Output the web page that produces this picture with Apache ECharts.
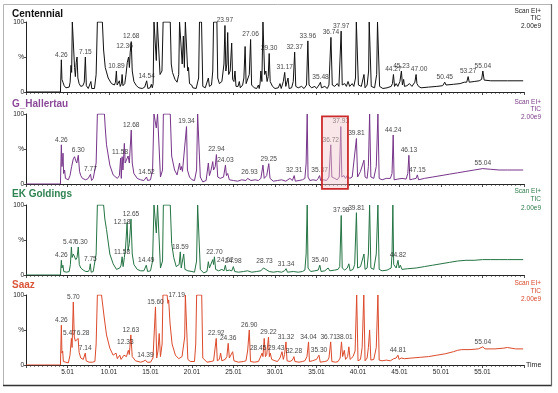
<!DOCTYPE html>
<html><head><meta charset="utf-8">
<script src="https://cdn.jsdelivr.net/npm/echarts@6/dist/echarts.min.js"></script>
<style>html,body{margin:0;padding:0;background:#fff}#c{width:558px;height:393px}</style>
</head><body><div id="c"></div>
<script>
const sampleNames = ['Centennial', 'G_Hallertau', 'EK Goldings', 'Saaz'];
const scanInfo = ['Scan EI+', 'TIC', '2.00e9'];

// [retention time (min), relative intensity (%)]
const centennialTrace = [
[0,0],[4.15,0],[4.26,46],[4.33,18],[4.45,14],[4.6,9],[4.8,6],[5.0,5],[5.2,7],[5.32,14],[5.42,38],[5.5,28],[5.58,100],[5.75,100],[5.85,35],[5.95,22],[6.05,42],[6.15,50],[6.25,20],[6.4,12],[6.6,8],[6.85,9],[7.02,14],[7.15,50],[7.27,9],[7.5,5],[7.7,7],[7.82,15],[7.92,5],[8.25,5],[8.45,25],[8.6,100],[9.2,100],[9.35,60],[9.55,35],[9.9,20],[10.3,12],[10.65,10],[10.78,14],[10.89,30],[10.98,10],[11.1,8],[11.25,16],[11.35,8],[11.5,12],[11.58,25],[11.68,9],[11.9,12],[12.05,25],[12.2,42],[12.36,50],[12.46,35],[12.55,56],[12.68,72],[12.8,30],[13.0,15],[13.3,9],[13.6,6],[14.0,5],[14.3,7],[14.54,16],[14.68,5],[14.95,6],[15.1,11],[15.22,6],[15.32,12],[15.42,100],[15.6,100],[15.7,45],[15.82,100],[16.02,100],[16.15,25],[16.38,30],[16.52,100],[17.38,100],[17.5,40],[17.65,28],[17.8,30],[17.95,18],[18.2,14],[18.4,25],[18.5,100],[18.72,100],[18.82,40],[18.96,80],[19.08,35],[19.2,100],[19.38,100],[19.48,30],[19.58,35],[19.7,12],[19.96,10],[20.1,6],[20.5,5],[20.8,20],[20.9,100],[21.15,100],[21.3,8],[21.6,6],[21.97,20],[22.1,8],[22.35,10],[22.5,30],[22.6,100],[23.0,100],[23.1,20],[23.3,12],[23.6,15],[23.85,40],[23.97,95],[24.08,30],[24.2,40],[24.3,85],[24.42,25],[24.6,30],[24.78,70],[24.9,18],[25.05,15],[25.18,30],[25.3,8],[25.55,8],[25.7,15],[25.82,6],[26.1,10],[26.25,20],[26.4,65],[26.52,12],[26.75,10],[26.9,25],[27.06,75],[27.18,10],[27.5,6],[27.8,5],[28.0,10],[28.1,5],[28.2,12],[28.3,30],[28.42,15],[28.55,100],[28.65,100],[28.75,25],[28.9,30],[29.05,15],[29.18,22],[29.3,55],[29.42,15],[29.7,8],[30.0,5],[30.4,6],[30.6,12],[30.75,5],[31.0,15],[31.17,28],[31.3,8],[31.45,10],[31.57,20],[31.7,5],[32.0,6],[32.2,15],[32.37,57],[32.5,8],[32.8,6],[33.2,8],[33.5,5],[33.8,10],[33.96,73],[34.1,10],[34.4,6],[34.8,8],[35.0,5],[35.3,10],[35.48,14],[35.6,6],[36.0,8],[36.3,5],[36.5,10],[36.74,78],[36.9,10],[37.2,8],[37.5,12],[37.7,8],[37.97,87],[38.1,10],[38.4,12],[38.6,8],[38.8,15],[39.0,8],[39.3,12],[39.5,8],[39.7,20],[39.8,100],[39.92,100],[40.05,10],[40.4,8],[40.72,25],[40.85,6],[41.1,10],[41.28,30],[41.35,100],[41.47,100],[41.6,8],[42.0,6],[42.25,25],[42.35,100],[42.47,100],[42.6,8],[43.0,5],[43.5,6],[44.0,8],[44.15,12],[44.27,25],[44.4,8],[44.6,12],[44.8,8],[45.05,15],[45.23,30],[45.35,10],[45.5,18],[45.6,8],[45.9,9],[46.2,12],[46.5,8],[46.85,14],[47.0,25],[47.1,12],[47.3,8],[47.6,6],[48.5,7],[49.5,8],[50.2,9],[50.45,14],[50.6,10],[51.5,11],[52.3,12],[52.8,14],[53.1,14],[53.27,22],[53.4,14],[54.0,15],[54.6,16],[54.9,18],[55.04,30],[55.2,17],[56,16],[58,16],[59.9,16]
];
const hallertauTrace = [
[0,0],[4.15,0],[4.26,56],[4.33,25],[4.4,32],[4.46,44],[4.53,15],[4.65,20],[4.75,8],[4.9,10],[5.1,6],[5.3,12],[5.5,25],[5.7,36],[5.85,39],[6.0,33],[6.12,30],[6.3,41],[6.45,18],[6.6,12],[6.8,8],[7.0,10],[7.2,6],[7.5,8],[7.65,6],[7.77,14],[7.9,5],[8.1,8],[8.25,6],[8.45,30],[8.6,100],[9.45,100],[9.55,80],[9.7,56],[10.1,27],[10.5,13],[11.0,8],[11.25,12],[11.4,37],[11.48,8],[11.58,39],[11.68,20],[11.85,58],[11.95,30],[12.1,32],[12.3,40],[12.45,30],[12.68,77],[12.8,30],[13.0,15],[13.4,8],[13.8,6],[14.2,5],[14.4,7],[14.52,10],[14.65,5],[15.0,6],[15.25,20],[15.42,100],[15.6,100],[15.7,80],[15.85,100],[16.05,100],[16.2,10],[16.45,20],[16.55,100],[17.38,100],[17.55,40],[17.9,20],[18.2,13],[18.35,12],[18.5,30],[18.6,20],[18.72,25],[18.85,18],[19.05,20],[19.34,82],[19.45,20],[19.7,10],[20.0,6],[20.3,5],[20.55,20],[20.68,100],[20.88,100],[21.0,10],[21.3,3],[21.7,5],[21.97,30],[22.1,12],[22.3,20],[22.5,32],[22.6,20],[22.8,25],[22.94,42],[23.1,10],[23.4,8],[23.8,10],[24.03,27],[24.15,12],[24.3,15],[24.5,6],[25.0,5],[25.5,4],[26.0,6],[26.5,5],[26.7,8],[26.93,10],[27.1,5],[27.6,6],[28.0,5],[28.3,8],[28.55,27],[28.7,8],[29.0,12],[29.25,29],[29.4,8],[29.8,4],[30.3,5],[30.8,6],[31.3,4],[31.8,8],[32.1,5],[32.31,12],[32.45,4],[32.9,5],[33.3,6],[33.6,8],[33.75,30],[33.88,100],[33.98,10],[34.2,5],[34.6,6],[35.0,5],[35.2,8],[35.37,12],[35.5,5],[35.9,6],[36.2,5],[36.5,10],[36.72,56],[36.85,10],[37.2,8],[37.5,6],[37.75,10],[37.93,82],[38.05,10],[38.3,12],[38.5,8],[38.7,12],[39.0,8],[39.3,10],[39.5,12],[39.81,65],[39.95,10],[40.3,18],[40.72,34],[40.85,10],[41.1,8],[41.25,25],[41.4,100],[41.55,10],[41.9,8],[42.2,25],[42.4,100],[42.55,8],[42.9,6],[43.4,8],[43.9,8],[44.1,15],[44.24,70],[44.35,6],[44.8,7],[45.3,8],[45.8,7],[46.0,15],[46.13,41],[46.25,6],[46.6,7],[47.0,8],[47.15,13],[47.3,6],[48.0,8],[49.0,10],[50.0,12],[51.0,14],[52.0,16],[53.0,18],[54.0,20],[55.04,22],[56.0,21],[57.0,20],[58.0,20],[59.9,20]
];
const goldingsTrace = [
[0,0],[4.15,0],[4.26,21],[4.33,10],[4.45,14],[4.55,5],[4.7,7],[4.9,4],[5.2,5],[5.35,15],[5.47,40],[5.55,25],[5.7,30],[5.85,28],[6.0,22],[6.15,25],[6.3,40],[6.42,15],[6.6,10],[6.9,7],[7.2,5],[7.5,5],[7.65,8],[7.75,16],[7.85,4],[8.1,5],[8.3,6],[8.45,30],[8.6,100],[9.35,100],[9.5,80],[9.7,65],[10.1,30],[10.5,16],[10.9,8],[11.3,10],[11.45,14],[11.58,26],[11.7,12],[11.85,25],[12.0,40],[12.18,75],[12.3,35],[12.45,45],[12.65,80],[12.8,30],[13.0,15],[13.4,8],[13.8,6],[14.2,6],[14.49,14],[14.65,5],[15.0,6],[15.25,20],[15.42,100],[15.6,100],[15.7,60],[15.85,100],[16.05,100],[16.2,10],[16.45,20],[16.55,100],[17.38,100],[17.55,45],[17.8,25],[18.1,12],[18.3,10],[18.45,15],[18.59,33],[18.7,10],[18.85,12],[19.0,30],[19.15,8],[19.5,6],[20.0,5],[20.3,4],[20.55,20],[20.68,100],[20.88,100],[21.0,8],[21.4,3],[21.8,5],[21.97,19],[22.1,10],[22.3,12],[22.5,22],[22.6,15],[22.7,26],[22.85,8],[23.2,6],[23.6,8],[23.85,6],[24.02,14],[24.15,6],[24.5,7],[24.8,6],[24.98,12],[25.15,5],[25.6,4],[26.2,5],[26.7,6],[27.2,4],[27.8,5],[28.3,6],[28.6,10],[28.73,12],[28.9,8],[29.1,10],[29.3,5],[29.8,4],[30.3,5],[30.8,4],[31.15,6],[31.34,9],[31.5,4],[32.2,5],[32.8,4],[33.3,5],[33.6,7],[33.75,30],[33.88,100],[33.98,10],[34.3,5],[34.8,6],[35.2,7],[35.4,14],[35.55,5],[36.0,6],[36.4,10],[36.6,6],[37.2,7],[37.6,8],[37.8,12],[37.98,85],[38.1,10],[38.4,7],[38.7,10],[38.9,16],[39.05,6],[39.4,8],[39.6,15],[39.81,89],[39.95,10],[40.3,12],[40.72,30],[40.85,8],[41.1,10],[41.25,30],[41.4,100],[41.55,10],[41.9,8],[42.2,30],[42.4,100],[42.55,8],[42.9,6],[43.5,7],[44.0,10],[44.1,30],[44.2,100],[44.3,15],[44.6,10],[44.82,21],[44.95,10],[45.1,14],[45.3,8],[46,9],[47,10],[48,12],[49,14],[50,16],[51,18],[52,20],[53,21],[54,21],[55,22],[56,22],[57,22],[58,22],[59.9,22]
];
const saazTrace = [
[0,0],[4.15,0],[4.26,57],[4.33,17],[4.42,20],[4.5,5],[4.8,4],[5.1,3],[5.3,14],[5.47,38],[5.55,25],[5.7,90],[5.82,40],[5.95,34],[6.05,36],[6.28,38],[6.4,18],[6.6,10],[6.9,8],[7.14,17],[7.25,6],[7.6,4],[8.0,4],[8.3,5],[8.45,30],[8.6,100],[9.1,100],[9.4,70],[9.7,43],[10.1,24],[10.5,14],[10.85,17],[11.0,9],[11.3,14],[11.45,8],[11.8,14],[12.1,12],[12.33,21],[12.45,15],[12.63,43],[12.8,12],[13.2,6],[13.8,4],[14.1,5],[14.39,7],[14.6,4],[15.0,4],[15.3,10],[15.6,83],[15.75,10],[15.9,20],[16.05,45],[16.2,12],[16.4,30],[16.5,100],[17.0,100],[17.1,88],[17.19,93],[17.35,60],[17.6,30],[18.0,14],[18.4,9],[18.8,12],[19.0,10],[19.12,40],[19.2,100],[19.38,100],[19.5,8],[19.8,5],[20.3,5],[20.45,30],[20.56,100],[21.17,100],[21.3,10],[21.8,4],[22.3,5],[22.6,6],[22.92,38],[23.05,6],[23.3,8],[23.45,17],[23.6,6],[24.0,8],[24.2,12],[24.36,31],[24.5,10],[24.7,12],[24.9,19],[25.05,6],[25.6,4],[26.2,5],[26.5,6],[26.7,20],[26.9,50],[27.05,5],[27.5,4],[28.0,5],[28.2,10],[28.45,17],[28.55,12],[28.7,38],[28.85,12],[29.0,15],[29.22,40],[29.32,12],[29.43,17],[29.6,8],[30.0,6],[30.3,5],[30.6,10],[30.85,19],[31.0,8],[31.15,15],[31.32,33],[31.45,6],[31.8,5],[32.1,7],[32.28,12],[32.4,5],[32.9,4],[33.3,5],[33.6,6],[33.85,12],[34.04,33],[34.15,5],[34.5,6],[35.0,8],[35.15,10],[35.3,14],[35.45,4],[36.0,5],[36.3,6],[36.5,10],[36.71,33],[36.85,5],[37.3,4],[37.6,5],[37.85,10],[38.01,33],[38.15,12],[38.35,21],[38.5,8],[38.75,12],[38.9,26],[39.05,8],[39.4,12],[39.65,20],[39.84,100],[40.0,6],[40.3,8],[40.5,25],[40.7,100],[40.85,6],[41.1,10],[41.25,25],[41.4,50],[41.55,7],[41.9,8],[42.2,25],[42.4,100],[42.55,7],[42.9,6],[43.4,7],[43.9,6],[44.3,9],[44.6,10],[44.81,14],[44.95,8],[45.2,10],[45.6,9],[46.5,10],[47.5,11],[48.5,12],[49.5,14],[50.5,16],[51.5,19],[52.0,21],[52.5,22],[53.5,22],[54.5,23],[55.04,26],[55.3,23],[56.5,23],[57.5,24],[58.0,25],[58.2,23],[59.0,23],[59.9,23]
];

// labelled peaks (retention times)
const centennialPeaks = [4.26,7.15,10.89,12.36,12.68,14.54,23.97,27.06,29.30,31.17,32.37,33.96,35.48,36.74,37.97,44.27,45.23,47.00,50.45,53.27,55.04];
const hallertauPeaks = [4.26,6.30,7.77,11.58,12.68,14.52,19.34,22.94,24.03,26.93,29.25,32.31,35.37,36.72,37.93,39.81,44.24,46.13,47.15,55.04];
const goldingsPeaks = [4.26,5.47,6.30,7.75,11.58,12.18,12.65,14.49,18.59,22.70,24.02,24.98,28.73,31.34,35.40,37.98,39.81,44.82];
const saazPeaks = [4.26,5.47,5.70,6.28,7.14,12.33,12.63,14.39,15.60,17.19,22.92,24.36,26.90,28.45,29.22,29.43,31.32,32.28,34.04,35.30,36.71,38.01,44.81,55.04];

// highlighted region in G_Hallertau [tStart, tEnd]
const highlightWindow = [35.66, 38.79];

const traces = [centennialTrace, hallertauTrace, goldingsTrace, saazTrace];
const peaks = [centennialPeaks, hallertauPeaks, goldingsPeaks, saazPeaks];

// label nudges (pixels) for labels drawn beside leader lines
const labelNudge = {
  '0:12.36': [-4, -6], '0:47.00': [3, 0],
  '1:11.58': [-2, 0],
  '2:5.47': [-2, 0], '2:6.30': [3, 0], '2:12.18': [-5, 5],
  '3:5.47': [-2, 0], '3:6.28': [5, 0], '3:17.19': [8, 0], '3:12.33': [-3, -3],
  '3:28.45': [-4, 0], '3:29.43': [6, 0], '3:36.71': [-2, 0], '3:38.01': [3, 0]
};

const FONT = '"Liberation Sans", Arial, sans-serif';
const lineColors = ['#111111', '#77358a', '#257444', '#dc4a2c'];
const titleColors = ['#111111', '#8a4a98', '#2f8252', '#d9553a'];
const infoColors = ['#222222', '#7a3a88', '#2a7a48', '#d9472b'];
const gridTops = [22, 114, 205, 295];
const gridH = 70;
const titleTops = [9, 99, 189, 280];
const infoY = [[11.7,18.7,26.3],[102,109.7,117],[191.3,199.7,208],[283.3,291,299]];

function apexOf(trace, t) {
  let best = 0;
  for (const [x, y] of trace) if (Math.abs(x - t) < 0.04 && y > best) best = y;
  return best;
}

const chart = echarts.init(document.getElementById('c'), null, {renderer: 'canvas'});

const grids = [], xAxes = [], yAxes = [], series = [], titles = [];
for (let i = 0; i < 4; i++) {
  const last = i === 3;
  grids.push({left: 26, width: 498, top: gridTops[i], height: gridH});
  titles.push({text: sampleNames[i], left: 12, top: titleTops[i], padding: 0,
    textStyle: {fontSize: 10, fontWeight: 'bold', color: titleColors[i], fontFamily: FONT}});
  xAxes.push({
    type: 'value', gridIndex: i, min: 0, max: 60, interval: 5,
    axisLine: {show: true, lineStyle: {color: '#222', width: 1}},
    axisTick: {show: true, length: 3, lineStyle: {color: '#222', width: 0.8}},
    minorTick: {show: true, splitNumber: 10, length: 2, lineStyle: {color: '#333', width: 0.6}},
    splitLine: {show: false},
    axisLabel: {show: last, fontSize: 6.5, color: '#222', margin: 4, fontFamily: FONT,
      formatter: v => (v > 0 && v < 60) ? (v + 0.01).toFixed(2) : ''},
    name: last ? 'Time' : '', nameLocation: 'end', nameGap: 2,
    nameTextStyle: {fontSize: 7, color: '#222', fontFamily: FONT}
  });
  yAxes.push({
    type: 'value', gridIndex: i, min: 0, max: 100, interval: 50,
    axisLine: {show: true, lineStyle: {color: '#222', width: 1}},
    axisTick: {show: true, length: 2, lineStyle: {color: '#222', width: 0.8}},
    splitLine: {show: false},
    axisLabel: {fontSize: 6.5, color: '#222', margin: 2, fontFamily: FONT,
      formatter: v => v === 100 ? '100' : (v === 50 ? '%' : (v === 0 ? '0' : ''))}
  });
  series.push({
    type: 'line', xAxisIndex: i, yAxisIndex: i, data: traces[i],
    showSymbol: false, symbol: 'none', smooth: false, clip: true,
    lineStyle: {color: lineColors[i], width: 1}, z: 2
  });
  series.push({
    type: 'scatter', xAxisIndex: i, yAxisIndex: i, symbolSize: 1,
    itemStyle: {color: 'rgba(0,0,0,0)'}, z: 3, silent: true,
    data: peaks[i].map(t => {
      const nudge = labelNudge[i + ':' + t.toFixed(2)] || [0, 0];
      return {value: [t, apexOf(traces[i], t)], label: {offset: nudge}};
    }),
    label: {show: true, position: 'top', distance: 1, fontSize: 6.6, color: '#111', fontFamily: FONT,
      formatter: p => p.value[0].toFixed(2)}
  });
}

const graphics = [
  {type: 'rect', shape: {x: 3.5, y: 4.5, width: 548, height: 381}, style: {fill: 'none', stroke: '#b4b4b4', lineWidth: 1}, z: 50},
  {type: 'line', shape: {x1: 3, y1: 385.5, x2: 552, y2: 385.5}, style: {stroke: '#333', lineWidth: 1.5}, z: 51},
  {type: 'line', shape: {x1: 551.5, y1: 4, x2: 551.5, y2: 386}, style: {stroke: '#666', lineWidth: 1.2}, z: 51}
];
for (let i = 0; i < 4; i++) {
  scanInfo.forEach((s, k) => {
    graphics.push({type: 'text', x: 541, y: infoY[i][k], z: 60,
      style: {text: s, fill: infoColors[i], fontSize: 6.5, fontFamily: FONT, align: 'right', verticalAlign: 'middle'}});
  });
}

chart.setOption({
  animation: false,
  backgroundColor: '#fff',
  textStyle: {fontFamily: FONT},
  title: titles, grid: grids, xAxis: xAxes, yAxis: yAxes, series: series,
  graphic: graphics
});

// highlight box in the G_Hallertau panel
const pA = chart.convertToPixel({xAxisIndex: 1, yAxisIndex: 1}, [highlightWindow[0], 96.5]);
const pB = chart.convertToPixel({xAxisIndex: 1, yAxisIndex: 1}, [highlightWindow[1], -7]);
graphics.push({type: 'rect', z: 100,
  shape: {x: pA[0], y: pA[1], width: pB[0] - pA[0], height: pB[1] - pA[1]},
  style: {fill: 'rgba(240,200,205,0.45)', stroke: '#cc2a2a', lineWidth: 1.8}});
chart.setOption({graphic: graphics});
</script></body></html>
